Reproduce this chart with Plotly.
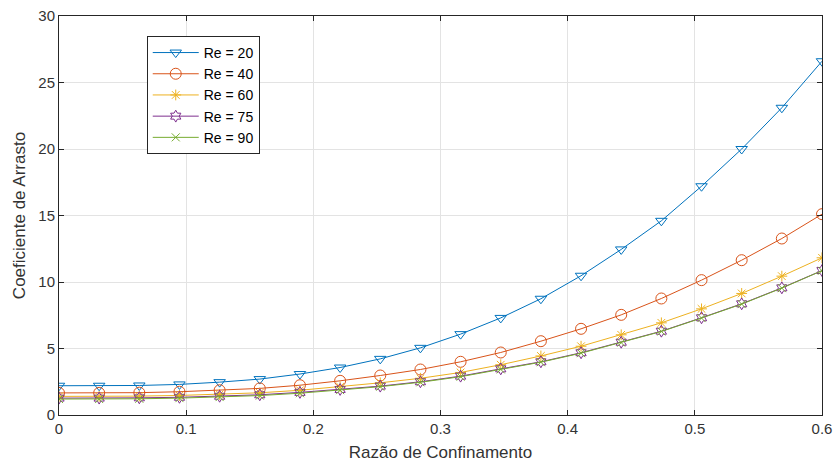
import plotly.graph_objects as go

# Confinement ratio: 20 evenly spaced samples from 0 to 0.6
razao = [i * 0.6 / 19 for i in range(20)]

cd_re20 = [2.20, 2.20, 2.22, 2.30, 2.47, 2.70, 3.08, 3.57, 4.22, 5.05,
           6.08, 7.30, 8.74, 10.47, 12.45, 14.60, 17.20, 20.00, 23.10, 26.60]
cd_re40 = [1.66, 1.66, 1.68, 1.75, 1.86, 2.00, 2.24, 2.57, 2.97, 3.42,
           4.00, 4.70, 5.55, 6.48, 7.53, 8.76, 10.14, 11.64, 13.27, 15.10]
cd_re60 = [1.40, 1.40, 1.42, 1.47, 1.55, 1.67, 1.86, 2.12, 2.42, 2.76,
           3.20, 3.78, 4.44, 5.17, 6.03, 6.93, 7.98, 9.14, 10.44, 11.82]
cd_re75 = [1.27, 1.27, 1.29, 1.33, 1.41, 1.52, 1.70, 1.92, 2.17, 2.50,
           2.92, 3.47, 4.00, 4.68, 5.47, 6.30, 7.31, 8.36, 9.56, 10.86]
cd_re90 = [1.20, 1.20, 1.22, 1.27, 1.35, 1.46, 1.64, 1.87, 2.13, 2.46,
           2.88, 3.43, 3.97, 4.65, 5.44, 6.28, 7.29, 8.34, 9.54, 10.85]

series = [
    ("Re = 20", cd_re20, "#0072BD", "triangle-down-open", 10),
    ("Re = 40", cd_re40, "#D95319", "circle-open", 11),
    ("Re = 60", cd_re60, "#EDB120", "asterisk-open", 9),
    ("Re = 75", cd_re75, "#7E2F8E", "hexagram-open", 9),
    ("Re = 90", cd_re90, "#77AC30", "x-thin-open", 8),
]

x_ticks = [0, 0.1, 0.2, 0.3, 0.4, 0.5, 0.6]
x_tick_text = ["0", "0.1", "0.2", "0.3", "0.4", "0.5", "0.6"]
y_ticks = [0, 5, 10, 15, 20, 25, 30]

fig = go.Figure()
for name, vals, color, symbol, size in series:
    fig.add_trace(go.Scatter(
        x=razao, y=vals, name=name, mode="lines+markers",
        line=dict(color=color, width=1),
        marker=dict(symbol=symbol, size=size, color=color,
                    line=dict(color=color, width=1)),
    ))

axis_common = dict(
    showgrid=True, gridcolor="#e3e3e3", gridwidth=1,
    showline=True, linecolor="#262626", linewidth=1, mirror="ticks",
    ticks="inside", ticklen=5, tickcolor="#262626",
    tickfont=dict(family="Liberation Sans, Arial", size=15, color="#333333"),
    zeroline=False, automargin=False,
)

fig.update_layout(
    width=834, height=464,
    margin=dict(l=59, r=12, t=16, b=49),
    paper_bgcolor="white", plot_bgcolor="white",
    font=dict(family="Liberation Sans, Arial", size=15, color="#262626"),
    xaxis=dict(
        range=[0, 0.6], tickvals=x_ticks, ticktext=x_tick_text,
        title=dict(text="Razão de Confinamento", standoff=10,
                   font=dict(size=17, color="#333333")),
        **axis_common,
    ),
    yaxis=dict(
        range=[0, 30], tickvals=y_ticks,
        title=dict(text="Coeficiente de Arrasto", standoff=8,
                   font=dict(size=17, color="#333333")),
        **axis_common,
    ),
    legend=dict(
        x=0.115, y=0.95, xanchor="left", yanchor="top",
        bgcolor="white", bordercolor="#262626", borderwidth=1,
        font=dict(family="Liberation Sans, Arial", size=14, color="#000000"),
        tracegroupgap=0, itemwidth=46,
    ),
    showlegend=True,
)

fig.write_html("out.html")
